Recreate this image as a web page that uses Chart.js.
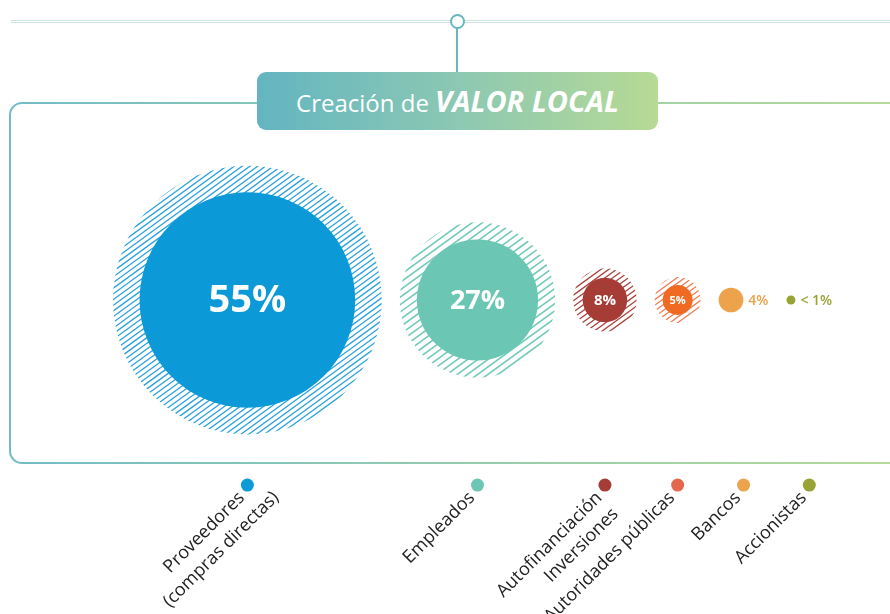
<!DOCTYPE html>
<html>
<head>
<meta charset="utf-8">
<script src="https://cdn.jsdelivr.net/npm/chart.js@4.4.0/dist/chart.umd.min.js"></script>
<style>
html, body { margin: 0; padding: 0; background: #fff; }
#wrap { position: relative; width: 890px; height: 614px; overflow: hidden; font-family: 'Open Sans', sans-serif; }
#myChart { position: absolute; left: 0; top: 0; }
.topline { position: absolute; left: 11px; right: 0; top: 20px; height: 1px; border-top: 1px solid #cfe4e2; border-bottom: 1px solid #cfe4e2; }
.knob { position: absolute; left: 450px; top: 14px; width: 11px; height: 11px; border: 2px solid #69b7c0; border-radius: 50%; background: #fff; }
.stem { position: absolute; left: 456px; top: 28px; width: 2px; height: 44px; background: #69b7c0; }
.title { position: absolute; left: 257px; top: 72px; width: 401px; height: 58px; border-radius: 9px;
  background: linear-gradient(90deg, #63b5c1 0%, #8cc8b3 50%, #b7da95 100%);
  color: #fff; text-align: center; line-height: 58px; font-size: 24px; font-weight: 500; z-index: 2; }
.title b { font-style: italic; font-size: 29px; font-weight: 700; }
</style>
</head>
<body>
<div id="wrap">
  <canvas id="myChart" width="890" height="614"></canvas>
  <div class="topline"></div>
  <div class="stem"></div>
  <div class="knob"></div>
  <div class="title">Creación de <b>VALOR LOCAL</b></div>
</div>
<script>
// datos
var categories = [['Proveedores', '(compras directas)'], 'Empleados', ['Autofinanciación', 'Inversiones'], 'Autoridades públicas', 'Bancos', 'Accionistas'];
var shares = [55, 27, 8, 5, 4, 0.5];
var shareLabels = ['55%', '27%', '8%', '5%', '4%', '< 1%'];
var colors = ['#0b9ad7', '#6bc7b4', '#a53d36', '#ef6b23', '#eca34b', '#98a335'];
var hatchColors = ['#2aa2dc', '#72cab9', '#a8433c', '#ee7d55', null, null];
var dotColors = ['#0b9ad7', '#6bc7b4', '#a53d36', '#e4674d', '#eca34b', '#98a335'];
var labelAlign = ['center', 'right', 'right', 'right', 'right', 'right'];

var INSIDE_MIN = 5;     // a partir de aqui la etiqueta va dentro
var GAP = 18, START = 113;
var outFont = '600 14px "Open Sans"';

function radiusFor(v) { return Math.max(4.5, 4.41 * Math.pow(v, 0.8) - 1); }
function haloFor(v) { return v >= INSIDE_MIN ? radiusFor(v) * 1.2 + 5 : 0; }

// medir etiquetas exteriores
var mctx = document.createElement('canvas').getContext('2d');
mctx.font = outFont;
function outWidth(i) { return 5 + mctx.measureText(shareLabels[i]).width; }

// colocar burbujas una tras otra
var bubbles = [], dots = [];
var cursor = START;
shares.forEach(function (v, i) {
  var r = radiusFor(v);
  var outer = haloFor(v) || r;
  var x = cursor + outer;
  bubbles.push({ x: x, y: 0, r: r });
  var extra = v < INSIDE_MIN ? outWidth(i) : 0;
  dots.push({ x: v < INSIDE_MIN ? x + extra / 2 : x, y: -0.617 });
  cursor = x + outer + extra + GAP;
});

var decor = {
  id: 'decor',
  beforeDraw: function (chart) {
    var ctx = chart.ctx;
    ctx.save();
    var g = ctx.createLinearGradient(0, 0, 890, 0);
    g.addColorStop(0, '#72bcc5');
    g.addColorStop(1, '#b5da9a');
    ctx.strokeStyle = g;
    ctx.lineWidth = 2;
    ctx.beginPath();
    ctx.moveTo(900, 103);
    ctx.lineTo(22, 103);
    ctx.arcTo(10, 103, 10, 115, 12);
    ctx.lineTo(10, 451);
    ctx.arcTo(10, 463, 22, 463, 12);
    ctx.lineTo(900, 463);
    ctx.stroke();
    ctx.restore();
  },
  beforeDatasetsDraw: function (chart) {
    var ctx = chart.ctx;
    var meta = chart.getDatasetMeta(0);
    meta.data.forEach(function (el, i) {
      var R = haloFor(shares[i]);
      if (!R) return;
      ctx.save();
      ctx.beginPath();
      ctx.arc(el.x, el.y, R, 0, Math.PI * 2);
      ctx.clip();
      ctx.translate(el.x, el.y);
      ctx.rotate(-Math.PI * 0.2);
      ctx.strokeStyle = hatchColors[i];
      ctx.lineWidth = i == 1 ? 1.6 : 1.3;
      var step = i == 1 ? 6 : 4.6;
      ctx.beginPath();
      for (var yy = -R; yy <= R; yy += step) {
        ctx.moveTo(-R, yy);
        ctx.lineTo(R, yy);
      }
      ctx.stroke();
      ctx.restore();
    });
  },
  afterDatasetsDraw: function (chart) {
    var ctx = chart.ctx;
    var meta = chart.getDatasetMeta(0);
    ctx.save();
    meta.data.forEach(function (el, i) {
      var r = radiusFor(shares[i]);
      ctx.textBaseline = 'middle';
      if (shares[i] >= INSIDE_MIN) {
        var fs = Math.round(4 * Math.sqrt(r) - 4);
        ctx.font = '700 ' + fs + 'px "Open Sans"';
        ctx.fillStyle = '#fff';
        ctx.textAlign = 'center';
        ctx.fillText(shareLabels[i], el.x, el.y + 1);
      } else {
        ctx.font = outFont;
        ctx.fillStyle = colors[i];
        ctx.textAlign = 'left';
        ctx.fillText(shareLabels[i], el.x + r + 5, el.y + 1);
      }
    });
    // nombres de categoria en diagonal
    var dmeta = chart.getDatasetMeta(1);
    dmeta.data.forEach(function (el, i) {
      var lines = [].concat(categories[i]);
      ctx.save();
      ctx.translate(el.x, el.y);
      ctx.rotate(-Math.PI / 4);
      ctx.font = '18px "Open Sans"';
      ctx.fillStyle = '#222';
      ctx.textBaseline = 'middle';
      ctx.textAlign = 'right';
      ctx.fillText(lines[0], -11, 3);
      if (lines[1]) {
        if (labelAlign[i] == 'center') {
          var w1 = ctx.measureText(lines[0]).width;
          ctx.textAlign = 'center';
          ctx.fillText(lines[1], -11 - w1 / 2, 27);
        } else {
          ctx.fillText(lines[1], -11, 26);
        }
      }
      ctx.restore();
    });
    ctx.restore();
  }
};

var ctx = document.getElementById('myChart').getContext('2d');
var chart = new Chart(ctx, {
  type: 'bubble',
  data: {
    datasets: [{
      data: bubbles,
      backgroundColor: colors,
      borderWidth: 0,
      clip: false
    }, {
      type: 'scatter',
      data: dots,
      backgroundColor: dotColors,
      borderWidth: 0,
      pointRadius: 6.5,
      clip: false
    }]
  },
  options: {
    responsive: false,
    animation: false,
    events: [],
    layout: { autoPadding: false, padding: { top: 0, bottom: 14, left: 0, right: 0 } },
    scales: {
      x: { type: 'linear', display: false, min: 0, max: 890 },
      y: { type: 'linear', display: false, min: -1, max: 1 }
    },
    plugins: { legend: { display: false }, tooltip: { enabled: false } }
  },
  plugins: [decor]
});
</script>
</body>
</html>
